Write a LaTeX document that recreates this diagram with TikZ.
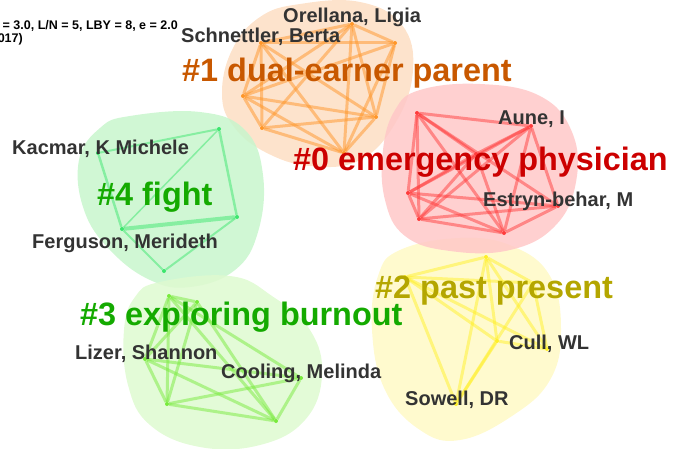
\documentclass[tikz,border=0pt]{standalone}
\usepackage{fontspec}
\setmainfont{Liberation Sans}
\definecolor{txtgray}{RGB}{51,51,51}
\definecolor{cOrange}{RGB}{200,88,0}
\definecolor{cRed}{RGB}{204,0,0}
\definecolor{cGreen}{RGB}{20,170,0}
\definecolor{cOlive}{RGB}{180,166,0}
\definecolor{eOrange}{RGB}{255,150,40}
\definecolor{eRed}{RGB}{255,60,60}
\definecolor{eGreenA}{RGB}{60,230,110}
\definecolor{eGreenB}{RGB}{120,235,60}
\definecolor{eYellow}{RGB}{255,240,40}
\definecolor{bOrange}{RGB}{253,222,195}
\definecolor{bRed}{RGB}{255,200,200}
\definecolor{bGreenA}{RGB}{200,246,205}
\definecolor{bGreenB}{RGB}{222,250,208}
\definecolor{bYellow}{RGB}{255,249,198}
\tikzset{
  blob/.style={fill=#1, fill opacity=0.85, draw=none},
  vtx/.style={circle, fill=#1, inner sep=0pt, minimum size=4pt},
  lnk/.style={draw=#1, line width=3pt, opacity=0.5},
  clabel/.style={font=\fontsize{32.4}{34}\selectfont\bfseries, text=#1, inner sep=0pt, anchor=base west},
  nlabel/.style={font=\fontsize{20}{22}\selectfont\bfseries, text=txtgray, inner sep=0pt, anchor=base west},
  hdr/.style={font=\fontsize{12.5}{13}\selectfont\bfseries, text=black, inner sep=0pt}
}
\begin{document}
\begin{tikzpicture}[x=1pt,y=-1pt]
\useasboundingbox (0,0) rectangle (679,449);
\begin{scope}
\clip (0,0) rectangle (679,449);
% blobs
\fill[blob=bOrange] plot[smooth cycle, tension=0.7] coordinates {(300,4) (360,2) (402,25) (413,70) (396,122) (360,160) (310,166) (265,152) (234,127) (222,95) (232,50) (260,17)};
\fill[blob=bGreenA] plot[smooth cycle, tension=0.7] coordinates {(130,116) (200,112) (245,130) (263,175) (258,232) (235,270) (190,287) (150,280) (110,250) (84,210) (79,160) (100,128)};
\fill[blob=bGreenB] plot[smooth cycle, tension=0.7] coordinates {(160,282) (230,276) (272,296) (310,330) (322,375) (305,420) (260,445) (200,447) (150,425) (128,385) (124,330) (135,297)};
\fill[blob=bYellow] plot[smooth cycle, tension=0.7] coordinates {(400,250) (460,238) (512,246) (550,276) (561,330) (550,380) (512,416) (460,440) (420,430) (385,390) (372,330) (378,276)};
\fill[blob=bRed] plot[smooth cycle, tension=0.7] coordinates {(420,90) (480,84) (540,96) (572,132) (576,182) (555,226) (510,250) (450,251) (405,236) (385,200) (383,150) (395,110)};
\end{scope}
% orange cluster vertices
\node[vtx=eOrange] (o1) at (352,24) {};
\node[vtx=eOrange] (o2) at (261,43) {};
\node[vtx=eOrange] (o3) at (395,43) {};
\node[vtx=eOrange] (o4) at (243,96) {};
\node[vtx=eOrange] (o5) at (376,117) {};
\node[vtx=eOrange] (o6) at (262,128) {};
\node[vtx=eOrange] (o7) at (344,153) {};
\foreach \a/\b in {o1/o2,o1/o3,o1/o4,o1/o5,o1/o6,o1/o7,o2/o3,o2/o4,o2/o5,o2/o6,o2/o7,o3/o4,o3/o5,o3/o7,o4/o5,o4/o6,o4/o7,o5/o6,o5/o7,o6/o7}
  \draw[lnk=eOrange] (\a) -- (\b);
% red cluster
\node[vtx=eRed] (r1) at (417,113) {};
\node[vtx=eRed] (r2) at (531,126) {};
\node[vtx=eRed] (r3) at (476,154) {};
\node[vtx=eRed] (r4) at (408,193) {};
\node[vtx=eRed] (r5) at (558,206) {};
\node[vtx=eRed] (r6) at (419,219) {};
\node[vtx=eRed] (r7) at (504,233) {};
\foreach \a/\b in {r1/r2,r1/r3,r1/r4,r1/r5,r1/r6,r1/r7,r2/r3,r2/r4,r2/r5,r2/r6,r2/r7,r3/r4,r3/r6,r3/r7,r4/r5,r4/r6,r4/r7,r5/r6,r5/r7,r6/r7}
  \draw[lnk=eRed] (\a) -- (\b);
% green #4
\node[vtx=eGreenA] (f1) at (219,129) {};
\node[vtx=eGreenA] (f2) at (98,153) {};
\node[vtx=eGreenA] (f3) at (237,217) {};
\node[vtx=eGreenA] (f4) at (122,229) {};
\node[vtx=eGreenA] (f5) at (164,271) {};
\draw[lnk=eGreenA, line width=2pt] (f2) -- (f1);
\draw[lnk=eGreenA, line width=2.5pt] (f1) -- (f3);
\draw[lnk=eGreenA, line width=2.5pt] (f2) -- (f4);
\draw[lnk=eGreenA, line width=4pt] (f4) -- (f3);
\draw[lnk=eGreenA, line width=1.5pt] (f1) -- (f4);
\draw[lnk=eGreenA, line width=2pt] (f4) -- (f5);
\draw[lnk=eGreenA, line width=2pt] (f5) -- (f3);
% green #3
\node[vtx=eGreenB] (x1) at (169,296) {};
\node[vtx=eGreenB] (x2) at (197,302) {};
\node[vtx=eGreenB] (x3) at (145,359) {};
\node[vtx=eGreenB] (x4) at (301,378) {};
\node[vtx=eGreenB] (x5) at (167,404) {};
\node[vtx=eGreenB] (x6) at (276,421) {};
\foreach \a/\b in {x1/x2,x1/x3,x1/x5,x1/x6,x1/x4,x2/x3,x2/x5,x2/x6,x3/x4,x3/x5,x3/x6,x5/x4,x5/x6,x4/x6}
  \draw[lnk=eGreenB] (\a) -- (\b);
% yellow #2
\node[vtx=eYellow] (y1) at (486,257) {};
\node[vtx=eYellow] (y2) at (405,277) {};
\node[vtx=eYellow] (y3) at (533,283) {};
\node[vtx=eYellow] (y4) at (497,341) {};
\node[vtx=eYellow] (y5) at (547,349) {};
\node[vtx=eYellow] (y6) at (456,404) {};
\foreach \a/\b in {y1/y2,y1/y3,y1/y4,y1/y5,y1/y6,y2/y3,y2/y4,y2/y5,y2/y6,y3/y5,y3/y6,y4/y6,y4/y5}
  \draw[lnk=eYellow] (\a) -- (\b);
% header text
\node[hdr, anchor=base east] (h1) at (178,30) {= 3.0, L/N = 5, LBY = 8, e = 2.0};
\node[hdr, anchor=base east] (h2) at (23,42.5) {017)};
% names
\node[nlabel] (nOre) at (283,23) {Orellana, Ligia};
\node[nlabel] (nSch) at (181,43) {Schnettler, Berta};
\node[nlabel] (nAun) at (498,125) {Aune, I};
\node[nlabel] (nEst) at (483,206) {Estryn-behar, M};
\node[nlabel] (nKac) at (12,155) {Kacmar, K Michele};
\node[nlabel] (nFer) at (32,248) {Ferguson, Merideth};
\node[nlabel] (nLiz) at (75,359) {Lizer, Shannon};
\node[nlabel] (nCoo) at (221,378) {Cooling, Melinda};
\node[nlabel] (nCul) at (509,349) {Cull, WL};
\node[nlabel] (nSow) at (405,405) {Sowell, DR};
% cluster labels
\node[clabel=cOrange] (c1) at (182,82) {\#1 dual-earner parent};
\node[clabel=cRed] (c0) at (293,171) {\#0 emergency physician};
\node[clabel=cGreen] (c4) at (97,205) {\#4 fight};
\node[clabel=cGreen] (c3) at (80,325) {\#3 exploring burnout};
\node[clabel=cOlive] (c2) at (375,298) {\#2 past present};
\end{tikzpicture}
\end{document}
